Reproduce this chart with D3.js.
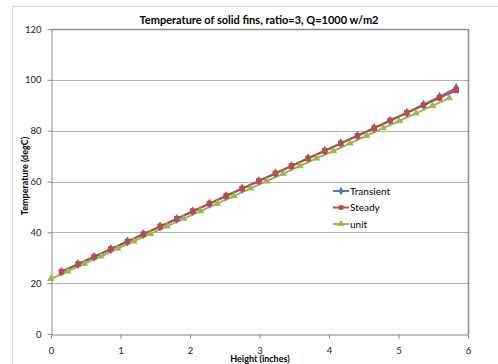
<!DOCTYPE html>
<html>
<head>
<meta charset="utf-8">
<script src="https://cdn.jsdelivr.net/npm/d3@7"></script>
<style>
  body { margin: 0; background: #fff; }
  svg { display: block; font-family: Lato, "Open Sans", sans-serif; }
</style>
</head>
<body>
<div id="vis-container"></div>
<script>
// chart data
let xTicks = [0, 1, 2, 3, 4, 5, 6];
let yTicks = [0, 20, 40, 60, 80, 100, 120];

let steadyX = [0.15, 0.39, 0.62, 0.86, 1.10, 1.33, 1.57, 1.81, 2.04, 2.28, 2.52, 2.75, 2.99,
               3.23, 3.46, 3.70, 3.94, 4.17, 4.41, 4.65, 4.88, 5.12, 5.36, 5.59, 5.83];
let transientY = [24.5, 27.5, 30.4, 33.4, 36.4, 39.3, 42.3, 45.3, 48.3, 51.3, 54.3, 57.2, 60.2,
                  63.2, 66.1, 69.1, 72.1, 75.0, 78.0, 81.0, 84.0, 87.1, 90.2, 93.3, 96.8];
let steadyY = [24.5, 27.5, 30.4, 33.4, 36.4, 39.3, 42.3, 45.3, 48.3, 51.3, 54.3, 57.2, 60.2,
               63.2, 66.1, 69.1, 72.1, 75.0, 78.0, 81.0, 84.0, 87.0, 90.0, 92.9, 95.9];
let unitX = [0, 0.24, 0.48, 0.72, 0.96, 1.19, 1.43, 1.67, 1.91, 2.15, 2.39, 2.63, 2.87,
             3.10, 3.34, 3.58, 3.82, 4.06, 4.30, 4.54, 4.78, 5.01, 5.25, 5.49, 5.73];
let unitY = [21.7, 24.7, 27.6, 30.6, 33.6, 36.5, 39.4, 42.4, 45.4, 48.4, 51.3, 54.3, 57.3,
             60.1, 63.1, 66.1, 69.1, 72.0, 75.0, 78.0, 81.0, 83.8, 86.8, 89.8, 92.8];

let seriesNames = ["Transient", "Steady", "unit"];
let seriesColors = ["#4a7ebb", "#be4b48", "#98b954"];

let series = [
  {name: seriesNames[0], color: seriesColors[0], shape: d3.symbolDiamond, pts: steadyX.map((x, i) => [x, transientY[i]])},
  {name: seriesNames[1], color: seriesColors[1], shape: d3.symbolSquare, pts: steadyX.map((x, i) => [x, steadyY[i]])},
  {name: seriesNames[2], color: seriesColors[2], shape: d3.symbolTriangle, pts: unitX.map((x, i) => [x, unitY[i]])}
];

let W = 498, H = 364;
let margin = {top: 29, right: 30, bottom: 30, left: 51};
let width = 468 - margin.left,
    height = 334 - margin.top;

let svg = d3.select("#vis-container")
  .append("svg")
  .attr("width", W)
  .attr("height", H);

// chart area border
svg.append("rect")
  .attr("x", 12.5).attr("y", 6.5)
  .attr("width", W).attr("height", H)
  .attr("fill", "none")
  .attr("stroke", "#d9d9d9");

let g = svg.append("g")
  .attr("transform", "translate(" + margin.left + "," + margin.top + ")");

let x = d3.scaleLinear().domain([0, 6]).range([0, width]);
let y = d3.scaleLinear().domain([0, 120]).range([height, 0]);

// gridlines
g.selectAll(".grid")
  .data(yTicks.slice(1))
  .enter()
  .append("line")
    .attr("x1", 0).attr("x2", width)
    .attr("y1", d => Math.round(y(d)) + 0.5)
    .attr("y2", d => Math.round(y(d)) + 0.5)
    .attr("stroke", "#b3b3b3");

// plot border top/right
g.append("path")
  .attr("d", "M0.5,0.5H" + (width + 0.5) + "V" + height)
  .attr("fill", "none")
  .attr("stroke", "#8c8c8c")
  .attr("stroke-width", 1.5);

// axes
let xAxis = g.append("g")
  .attr("transform", "translate(0," + (height + 0.5) + ")")
  .call(d3.axisBottom(x).tickValues(xTicks).tickFormat(d3.format("d")).tickSize(4).tickSizeOuter(0));
let yAxis = g.append("g")
  .attr("transform", "translate(0.5,0)")
  .call(d3.axisLeft(y).tickValues(yTicks).tickFormat(d3.format("d")).tickSize(4).tickSizeOuter(0));

[xAxis, yAxis].forEach(a => {
  a.select(".domain").attr("stroke", "#868686");
  a.selectAll(".tick line").attr("stroke", "#868686");
  a.selectAll("text").attr("font-family", "Lato, sans-serif").attr("font-size", "9.5px").attr("fill", "#222");
});
xAxis.selectAll("text").attr("dy", "0").attr("y", 19);
yAxis.selectAll("text").attr("x", -10);

// lines and markers
let line = d3.line().x(d => x(d[0])).y(d => y(d[1]));

series.forEach(s => {
  g.append("path")
    .datum(s.pts)
    .attr("fill", "none")
    .attr("stroke", s.color)
    .attr("stroke-width", 2)
    .attr("d", line);
});
series.forEach(s => {
  let size = s.shape === d3.symbolSquare ? 32 : (s.shape === d3.symbolTriangle ? 26 : 30);
  g.selectAll(".m-" + s.name)
    .data(s.pts)
    .enter()
    .append("path")
      .attr("transform", d => "translate(" + x(d[0]) + "," + y(d[1]) + ")")
      .attr("d", d3.symbol().type(s.shape).size(size))
      .attr("fill", s.color);
});

// legend
let legend = svg.append("g").attr("transform", "translate(333,191)");
series.forEach((s, i) => {
  let row = legend.append("g").attr("transform", "translate(0," + (i * 16.5) + ")");
  row.append("line").attr("x1", 0).attr("x2", 16).attr("stroke", s.color).attr("stroke-width", 2);
  row.append("path").attr("transform", "translate(8,0)")
    .attr("d", d3.symbol().type(s.shape).size(22)).attr("fill", s.color);
  row.append("text").attr("x", 17).attr("y", 3.5)
    .attr("font-size", "10px").text(s.name);
});

// titles
svg.append("text")
  .attr("x", 259).attr("y", 24)
  .attr("text-anchor", "middle")
  .attr("font-weight", "bold")
  .attr("font-size", "11px")
  .text("Temperature of solid fins, ratio=3, Q=1000 w/m2");

svg.append("text")
  .attr("x", 260).attr("y", 362)
  .attr("text-anchor", "middle")
  .attr("font-weight", "bold")
  .attr("font-size", "9px")
  .text("Height (inches)");

svg.append("text")
  .attr("transform", "translate(28,176) rotate(-90)")
  .attr("text-anchor", "middle")
  .attr("font-weight", "bold")
  .attr("font-size", "9px")
  .text("Temperature (degC)");
</script>
</body>
</html>
